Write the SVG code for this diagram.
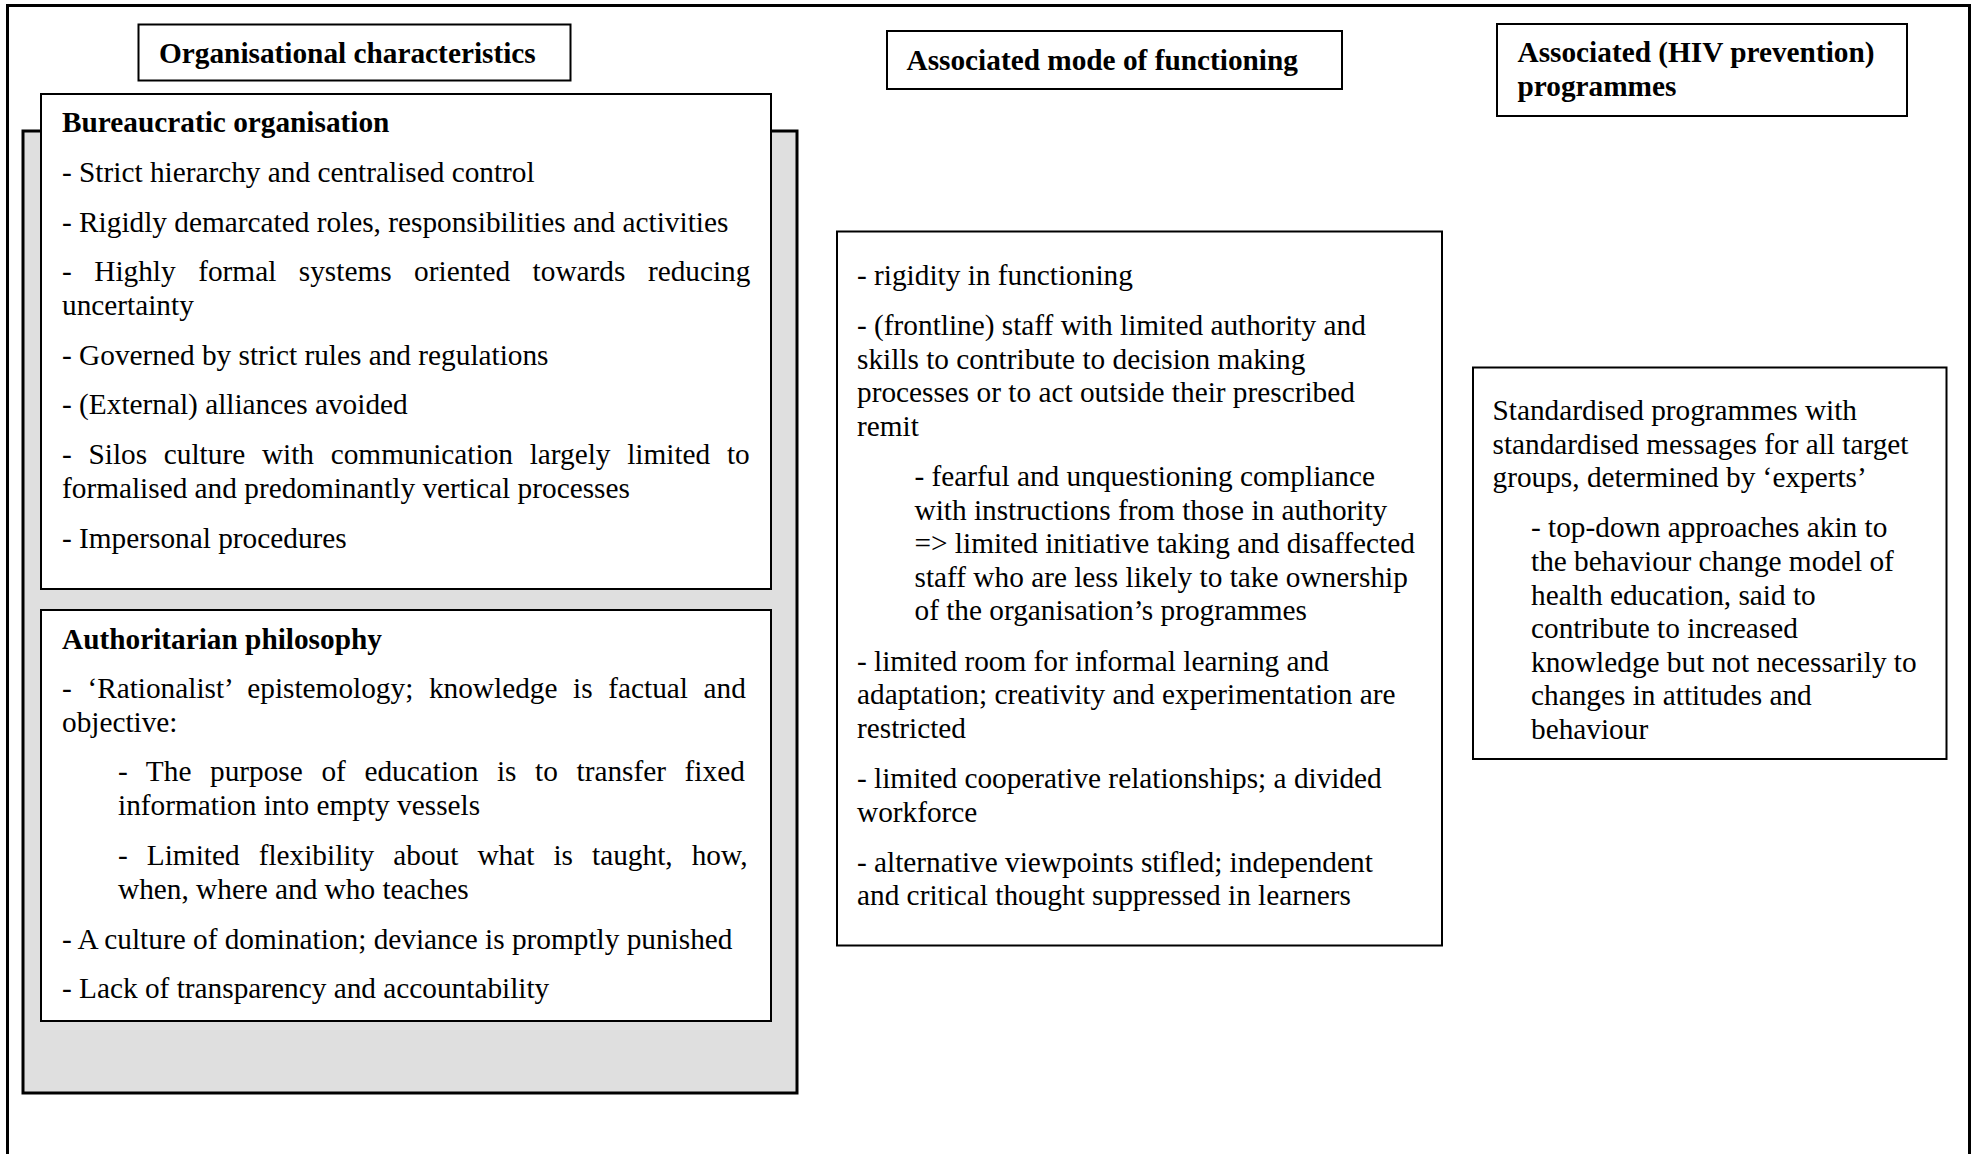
<svg xmlns="http://www.w3.org/2000/svg" width="1974" height="1154" viewBox="0 0 1974 1154">
<style>
  text { font-family: "Liberation Serif", "Times New Roman", serif; font-size: 29.3px; fill: #000; }
  .b { font-weight: bold; }
  .box { fill: #fff; stroke: #000; stroke-width: 2; }
  .panel { fill: #dfdfdf; stroke: #000; stroke-width: 3; }
  .frame { fill: none; stroke: #000; stroke-width: 3; }
</style>
<rect x="0" y="0" width="1974" height="1154" fill="#fff"/>
<path class="frame" d="M7.5,1154 V5.5 H1969.5 V1154"/>

<g id="title-org">
  <rect class="box" x="138.5" y="24.5" width="432" height="56"/>
  <text class="b" x="159" y="62.5">Organisational characteristics</text>
</g>

<g id="title-mode">
  <rect class="box" x="887" y="31" width="455" height="58"/>
  <text class="b" x="906.5" y="69.5">Associated mode of functioning</text>
</g>

<g id="title-prog">
  <rect class="box" x="1497" y="24" width="410" height="92"/>
  <text class="b" x="1517.5" y="62">Associated (HIV prevention)</text>
  <text class="b" x="1517.5" y="95.5">programmes</text>
</g>

<g id="org-panel">
  <rect class="panel" x="23" y="131" width="774" height="962"/>
</g>

<g id="bureaucratic">
  <rect class="box" x="41" y="94" width="730" height="495"/>
  <text class="b" x="62" y="132">Bureaucratic organisation</text>
  <text x="62" y="182">- Strict hierarchy and centralised control</text>
  <text x="62" y="232">- Rigidly demarcated roles, responsibilities and activities</text>
  <text x="62" y="281" word-spacing="15.2">- Highly formal systems oriented towards reducing</text>
  <text x="62" y="315">uncertainty</text>
  <text x="62" y="365">- Governed by strict rules and regulations</text>
  <text x="62" y="413.5">- (External) alliances avoided</text>
  <text x="62" y="464" word-spacing="9.4">- Silos culture with communication largely limited to</text>
  <text x="62" y="498">formalised and predominantly vertical processes</text>
  <text x="62" y="548">- Impersonal procedures</text>
</g>

<g id="authoritarian">
  <rect class="box" x="41" y="610" width="730" height="411"/>
  <text class="b" x="62" y="649">Authoritarian philosophy</text>
  <text x="62" y="698" word-spacing="8.3">- ‘Rationalist’ epistemology; knowledge is factual and</text>
  <text x="62" y="732">objective:</text>
  <text x="118" y="781" word-spacing="11.3">- The purpose of education is to transfer fixed</text>
  <text x="118" y="815">information into empty vessels</text>
  <text x="118" y="865" word-spacing="11.75">- Limited flexibility about what is taught, how,</text>
  <text x="118" y="899">when, where and who teaches</text>
  <text x="62" y="948.5">- A culture of domination; deviance is promptly punished</text>
  <text x="62" y="997.5">- Lack of transparency and accountability</text>
</g>

<g id="mode">
  <rect class="box" x="837" y="231.5" width="605" height="714"/>
  <text x="857" y="285">- rigidity in functioning</text>
  <text x="857" y="335">- (frontline) staff with limited authority and</text>
  <text x="857" y="368.6">skills to contribute to decision making</text>
  <text x="857" y="402.2">processes or to act outside their prescribed</text>
  <text x="857" y="435.8">remit</text>
  <text x="914.5" y="486">- fearful and unquestioning compliance</text>
  <text x="914.5" y="519.6">with instructions from those in authority</text>
  <text x="914.5" y="553.2">=&gt; limited initiative taking and disaffected</text>
  <text x="914.5" y="586.8">staff who are less likely to take ownership</text>
  <text x="914.5" y="620.4">of the organisation’s programmes</text>
  <text x="857" y="670.6">- limited room for informal learning and</text>
  <text x="857" y="704.2">adaptation; creativity and experimentation are</text>
  <text x="857" y="737.8">restricted</text>
  <text x="857" y="788">- limited cooperative relationships; a divided</text>
  <text x="857" y="821.6">workforce</text>
  <text x="857" y="871.8">- alternative viewpoints stifled; independent</text>
  <text x="857" y="905.4">and critical thought suppressed in learners</text>
</g>

<g id="programmes">
  <rect class="box" x="1473" y="367.5" width="473.5" height="391.5"/>
  <text x="1492.5" y="420">Standardised programmes with</text>
  <text x="1492.5" y="453.6">standardised messages for all target</text>
  <text x="1492.5" y="487.2">groups, determined by ‘experts’</text>
  <text x="1531" y="537.4">- top-down approaches akin to</text>
  <text x="1531" y="571">the behaviour change model of</text>
  <text x="1531" y="604.6">health education, said to</text>
  <text x="1531" y="638.2">contribute to increased</text>
  <text x="1531" y="671.8">knowledge but not necessarily to</text>
  <text x="1531" y="705.4">changes in attitudes and</text>
  <text x="1531" y="739">behaviour</text>
</g>

<g id="connectors"/>
</svg>
